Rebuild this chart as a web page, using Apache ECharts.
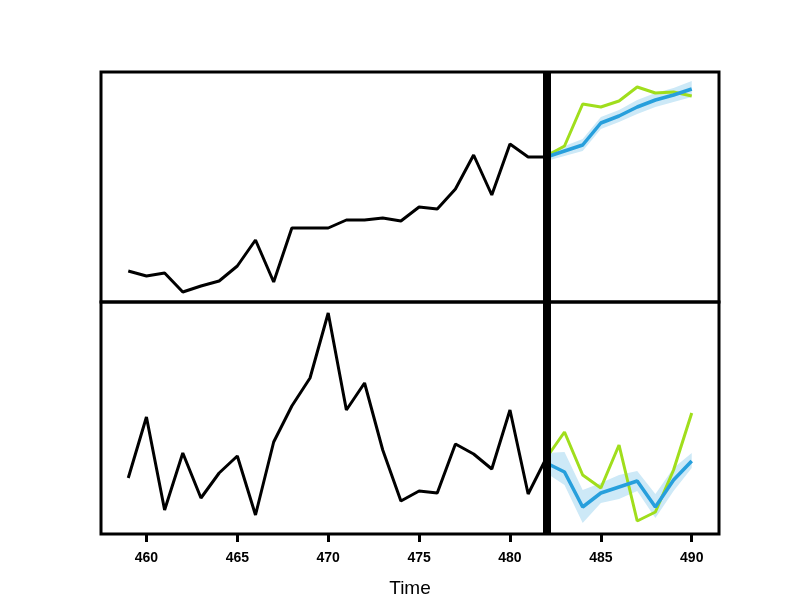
<!DOCTYPE html>
<html>
<head>
<meta charset="utf-8">
<script src="https://cdn.jsdelivr.net/npm/echarts@6/dist/echarts.min.js"></script>
<style>
  html, body { margin: 0; padding: 0; background: #fff; }
  #main { width: 800px; height: 600px; }
</style>
</head>
<body>
<div id="main"></div>
<script>
// time steps
var histTime = [459, 460, 461, 462, 463, 464, 465, 466, 467, 468, 469, 470,
                471, 472, 473, 474, 475, 476, 477, 478, 479, 480, 481, 482];
var fcTime = [482, 483, 484, 485, 486, 487, 488, 489, 490];
var tickValues = [460, 465, 470, 475, 480, 485, 490];
var splitTime = 482;

// top panel (arbitrary units, no y scale shown)
var topHist = [31, 26, 29, 10, 16, 21, 36, 62, 20, 74, 74, 74,
               82, 82, 84, 81, 95, 93, 113, 147, 107, 158, 145, 145];
var topActual = [146, 156, 198, 195, 201, 215, 209, 210, 206];
var topForecast = [145, 151, 157, 179, 186, 195, 202, 207, 213];
var topLower = [141, 146, 151, 173, 180, 188, 195, 200, 205];
var topUpper = [149, 156, 163, 185, 192, 202, 209, 214, 221];

// bottom panel
var botHist = [56, 117, 24, 81, 36, 61, 78, 19, 92, 128, 156, 221,
               124, 151, 84, 33, 43, 41, 90, 80, 65, 124, 40, 76];
var botActual = [76, 102, 59, 46, 89, 13, 22, 64, 121];
var botForecast = [71, 62, 27, 41, 47, 53, 27, 54, 73];
var botLower = [61, 49, 11, 31, 35, 43, 16, 43, 66];
var botUpper = [81, 82, 44, 51, 59, 63, 40, 66, 81];

var GREEN = '#a0de1c';
var BLUE = '#279fdc';
var BAND = '#cde9f7';

function pairs(xs, ys) {
    return xs.map(function(x, i) { return [x, ys[i]]; });
}

// confidence band drawn as one polygon through the axis scales
function bandSeries(idx, lower, upper) {
    var rows = fcTime.map(function(t, i) { return [t, lower[i], upper[i]]; });
    return {
        type: 'custom', xAxisIndex: idx, yAxisIndex: idx, silent: true, z: 1,
        data: [0],
        renderItem: function(params, api) {
            var pts = [];
            rows.forEach(function(r) { pts.push(api.coord([r[0], r[2]])); });
            rows.slice().reverse().forEach(function(r) { pts.push(api.coord([r[0], r[1]])); });
            return { type: 'polygon', shape: { points: pts }, style: { fill: BAND } };
        }
    };
}

function panelSeries(idx, hist, actual, forecast, lower, upper) {
    return [
        bandSeries(idx, lower, upper),
        {
            name: 'actual' + idx, type: 'line', xAxisIndex: idx, yAxisIndex: idx,
            symbol: 'none', lineStyle: { color: GREEN, width: 3 },
            data: pairs(fcTime, actual), z: 3
        },
        {
            name: 'forecast' + idx, type: 'line', xAxisIndex: idx, yAxisIndex: idx,
            symbol: 'none', lineStyle: { color: BLUE, width: 3.5 },
            data: pairs(fcTime, forecast), z: 4
        },
        {
            name: 'history' + idx, type: 'line', xAxisIndex: idx, yAxisIndex: idx,
            symbol: 'none', lineStyle: { color: '#000', width: 3 },
            data: pairs(histTime, hist), z: 5,
            markLine: {
                silent: true, symbol: 'none', label: { show: false },
                lineStyle: { color: '#000', width: 8, type: 'solid' },
                data: [{ xAxis: splitTime }],
                z: 10
            }
        }
    ];
}

var myChart = echarts.init(document.getElementById('main'));

var xBase = { type: 'value', min: 457.5, max: 491.5, splitLine: { show: false } };

var option = {
    animation: false,
    backgroundColor: '#fff',
    grid: [
        { left: 101, right: 81, top: 72, height: 230, show: true,
          borderColor: '#000', borderWidth: 3, backgroundColor: 'transparent' },
        { left: 101, right: 81, top: 302, height: 232, show: true,
          borderColor: '#000', borderWidth: 3, backgroundColor: 'transparent' }
    ],
    xAxis: [
        Object.assign({}, xBase, { gridIndex: 0, show: false }),
        Object.assign({}, xBase, {
            gridIndex: 1,
            name: 'Time',
            nameLocation: 'middle',
            nameGap: 45,
            nameTextStyle: { color: '#000', fontSize: 19, fontFamily: 'Liberation Sans' },
            axisLine: { show: false },
            axisTick: { show: true, customValues: tickValues, length: 8,
                        lineStyle: { color: '#000', width: 3 } },
            axisLabel: { customValues: tickValues, color: '#000', fontSize: 14,
                         fontWeight: 'bold', fontFamily: 'Liberation Sans', margin: 17 }
        })
    ],
    yAxis: [
        { type: 'value', gridIndex: 0, min: 0, max: 230, show: false, splitLine: { show: false } },
        { type: 'value', gridIndex: 1, min: 0, max: 232, show: false, splitLine: { show: false } }
    ],
    series: panelSeries(0, topHist, topActual, topForecast, topLower, topUpper)
        .concat(panelSeries(1, botHist, botActual, botForecast, botLower, botUpper))
};

myChart.setOption(option);
</script>
</body>
</html>
